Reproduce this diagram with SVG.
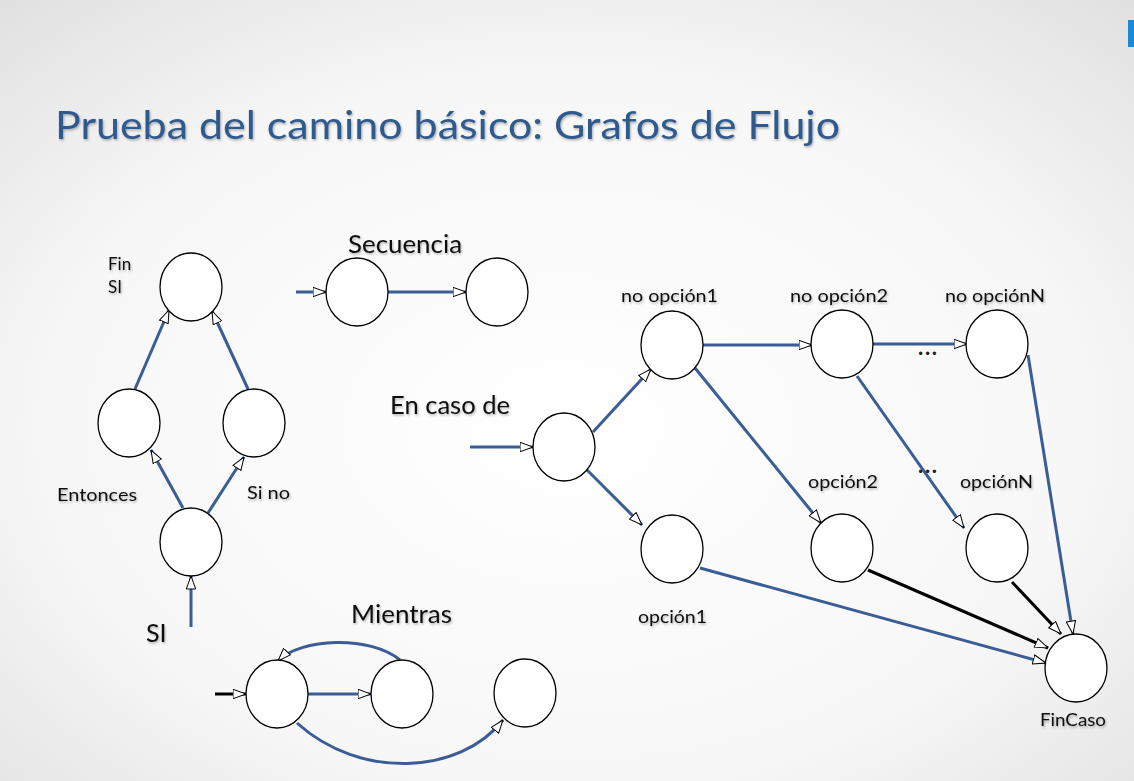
<svg xmlns="http://www.w3.org/2000/svg" width="1134" height="781" viewBox="0 0 1134 781">
  <defs>
    <radialGradient id="bg" cx="0.5" cy="0.55" r="0.75">
      <stop offset="0" stop-color="#ffffff"/>
      <stop offset="0.6" stop-color="#f7f7f7"/>
      <stop offset="1" stop-color="#e0e0e0"/>
    </radialGradient>
    <filter id="shadow" x="-10%" y="-30%" width="130%" height="170%">
      <feDropShadow dx="1" dy="1.5" stdDeviation="1" flood-color="#000" flood-opacity="0.3"/>
    </filter>
    <marker id="arrow" viewBox="0 0 14 11" refX="13.5" refY="5.5" markerWidth="14" markerHeight="11" markerUnits="userSpaceOnUse" orient="auto">
      <path d="M0.5,0.8 L13.5,5.5 L0.5,10.2 Z" fill="#fff" stroke="#000" stroke-width="1"/>
    </marker>
    <style>
      .node { fill: #fff; stroke: #000; stroke-width: 1.3; }
      .edge { fill: none; stroke: #3a5d96; stroke-width: 3; marker-end: url(#arrow); }
      .dark { fill: none; stroke: #000; stroke-width: 3; marker-end: url(#arrow); }
      .lbl { font-family: Lato, "Liberation Sans", sans-serif; font-size: 17px; fill: #111; filter: url(#shadow); }
      .dots { font-family: Lato, "Liberation Sans", sans-serif; font-size: 22px; font-weight: bold; fill: #222; }
      .big { font-family: Lato, "Liberation Sans", sans-serif; font-size: 25px; fill: #111; filter: url(#shadow); }
      .title { font-family: Lato, "Liberation Sans", sans-serif; font-size: 38px; fill: #2f5a8e; filter: url(#shadow); }
    </style>
  </defs>

  <rect width="1134" height="781" fill="url(#bg)"/>
  <rect x="1128" y="20" width="6" height="27" fill="#1a8ad4"/>

  <text class="title" x="55" y="139" textLength="785" lengthAdjust="spacingAndGlyphs">Prueba del camino básico: Grafos de Flujo</text>

  <!-- connectors -->
  <g id="connectors">
    <!-- SI -->
    <line class="edge" x1="191" y1="627" x2="191" y2="576"/>
    <line class="edge" x1="183" y1="508" x2="151" y2="450"/>
    <line class="edge" x1="208" y1="513" x2="244" y2="457"/>
    <line class="edge" x1="135" y1="389" x2="169" y2="310"/>
    <line class="edge" x1="248" y1="389" x2="212" y2="311"/>
    <!-- Secuencia -->
    <line class="edge" x1="296" y1="292" x2="326" y2="292"/>
    <line class="edge" x1="388" y1="292" x2="466" y2="292"/>
    <!-- Mientras -->
    <line class="dark" x1="215" y1="694" x2="246" y2="694" stroke-width="3.5"/>
    <line class="edge" x1="308" y1="694" x2="371" y2="694"/>
    <path class="edge" d="M400,660 C370,635 300,638 278,661"/>
    <path class="edge" d="M297,723 C360,780 460,775 503,720"/>
    <!-- En caso de -->
    <line class="edge" x1="470" y1="447" x2="533" y2="447"/>
    <line class="edge" x1="593" y1="432" x2="651" y2="369"/>
    <line class="edge" x1="587" y1="470" x2="642" y2="525"/>
    <line class="edge" x1="703" y1="345" x2="812" y2="345"/>
    <line class="edge" x1="695" y1="368" x2="821" y2="523"/>
    <line class="edge" x1="873" y1="344" x2="967" y2="344"/>
    <line class="edge" x1="857" y1="376" x2="964" y2="528"/>
    <line class="edge" x1="1028" y1="355" x2="1073" y2="634" stroke-width="2.5"/>
    <line class="edge" x1="700" y1="568" x2="1046" y2="663"/>
    <line class="dark" x1="868" y1="570" x2="1048" y2="648"/>
    <line class="dark" x1="1012" y1="582" x2="1061" y2="634" stroke-width="4"/>
  </g>

  <!-- SI -->
  <g id="si-fin"><ellipse class="node" cx="191" cy="287" rx="31" ry="34"/></g>
  <g id="si-entonces"><ellipse class="node" cx="129" cy="423" rx="31" ry="34"/></g>
  <g id="si-sino"><ellipse class="node" cx="254" cy="423" rx="31" ry="34"/></g>
  <g id="si-inicio"><ellipse class="node" cx="191" cy="542" rx="31" ry="34"/></g>
  <text class="lbl" x="108" y="270">Fin</text>
  <text class="lbl" x="108" y="293">SI</text>
  <text class="lbl" x="57" y="501" textLength="80" lengthAdjust="spacingAndGlyphs">Entonces</text>
  <text class="lbl" x="247" y="499" textLength="43" lengthAdjust="spacingAndGlyphs">Si no</text>
  <text class="big" x="146" y="642">SI</text>

  <!-- Secuencia -->
  <g id="seq-1"><ellipse class="node" cx="357" cy="292" rx="31" ry="34"/></g>
  <g id="seq-2"><ellipse class="node" cx="497" cy="292" rx="31" ry="34"/></g>
  <text class="big" x="348" y="253" textLength="114" lengthAdjust="spacingAndGlyphs">Secuencia</text>

  <!-- Mientras -->
  <g id="mientras-cond"><ellipse class="node" cx="277" cy="694" rx="31" ry="34"/></g>
  <g id="mientras-cuerpo"><ellipse class="node" cx="402" cy="694" rx="31" ry="34"/></g>
  <g id="mientras-fin"><ellipse class="node" cx="525" cy="693" rx="31" ry="34"/></g>
  <text class="big" x="351" y="623" textLength="101" lengthAdjust="spacingAndGlyphs">Mientras</text>

  <!-- En caso de -->
  <g id="caso-inicio"><ellipse class="node" cx="564" cy="447" rx="31" ry="34"/></g>
  <g id="caso-no1"><ellipse class="node" cx="672" cy="345" rx="31" ry="34"/></g>
  <g id="caso-op1"><ellipse class="node" cx="672" cy="549" rx="31" ry="34"/></g>
  <g id="caso-no2"><ellipse class="node" cx="842" cy="344" rx="31" ry="34"/></g>
  <g id="caso-op2"><ellipse class="node" cx="842" cy="548" rx="31" ry="34"/></g>
  <g id="caso-noN"><ellipse class="node" cx="997" cy="344" rx="31" ry="34"/></g>
  <g id="caso-opN"><ellipse class="node" cx="997" cy="548" rx="31" ry="34"/></g>
  <g id="caso-fin"><ellipse class="node" cx="1076" cy="668" rx="31" ry="34"/></g>
  <text class="big" x="390" y="414" textLength="120" lengthAdjust="spacingAndGlyphs">En caso de</text>
  <text class="lbl" x="621" y="302" textLength="97" lengthAdjust="spacingAndGlyphs">no opción1</text>
  <text class="lbl" x="790" y="302" textLength="98" lengthAdjust="spacingAndGlyphs">no opción2</text>
  <text class="lbl" x="945" y="302" textLength="100" lengthAdjust="spacingAndGlyphs">no opciónN</text>
  <text class="lbl" x="808" y="488" textLength="70" lengthAdjust="spacingAndGlyphs">opción2</text>
  <text class="lbl" x="960" y="488" textLength="73" lengthAdjust="spacingAndGlyphs">opciónN</text>
  <text class="lbl" x="638" y="623" textLength="69" lengthAdjust="spacingAndGlyphs">opción1</text>
  <text class="lbl" x="1040" y="726" textLength="66" lengthAdjust="spacingAndGlyphs">FinCaso</text>
  <text class="dots" x="918" y="355" textLength="19" lengthAdjust="spacing">...</text>
  <text class="dots" x="918" y="473" textLength="19" lengthAdjust="spacing">...</text>
</svg>
